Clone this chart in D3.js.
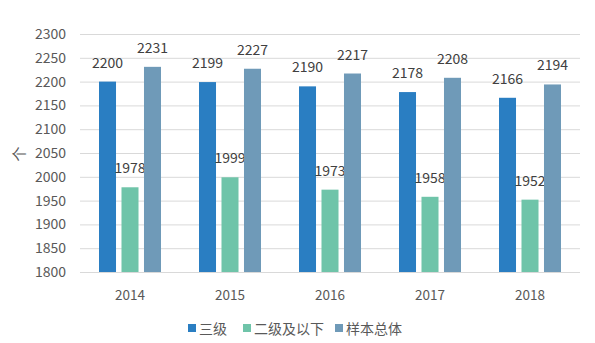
<!DOCTYPE html>
<html><head><meta charset="utf-8">
<script src="https://cdn.jsdelivr.net/npm/d3@7"></script>
<style>body{margin:0;background:#fff}svg{display:block}text{font-family:"Noto Sans CJK SC","Open Sans",sans-serif}</style>
</head><body><div id="c"></div>
<script>
const years = ["2014","2015","2016","2017","2018"];
const seriesNames = ["三级","二级及以下","样本总体"];
const level3 = [2200,2199,2190,2178,2166];
const level2Below = [1978,1999,1973,1958,1952];
const overall = [2231,2227,2217,2208,2194];
const yTicks = [1800,1850,1900,1950,2000,2050,2100,2150,2200,2250,2300];
const colors = ["#2a7ec2","#6fc4a9","#6f9ab8"];
const yTitle = "个";

const W=595,H=343;
const m={left:80,right:15,top:34,bottom:71};
const svg=d3.select("#c").append("svg").attr("width",W).attr("height",H);
const x=d3.scaleBand().domain(years).range([m.left,W-m.right]).padding(0);
const y=d3.scaleLinear().domain([1800,2300]).range([H-m.bottom,m.top]);
const xs=d3.scaleBand().domain(seriesNames).range([0,x.bandwidth()]).paddingInner(0.244).paddingOuter(0.845);

// grid
svg.append("g").selectAll("line").data(yTicks).join("line")
  .attr("x1",m.left).attr("x2",W-m.right)
  .attr("y1",d=>y(d)+0.5).attr("y2",d=>y(d)+0.5)
  .attr("stroke","#d9d9d9").attr("stroke-width",1);

const yAxis=svg.append("g").attr("transform",`translate(${m.left},0)`)
  .call(d3.axisLeft(y).tickValues(yTicks).tickFormat(d3.format("d")).tickSize(0).tickPadding(14));
yAxis.select(".domain").remove();
yAxis.selectAll("text").attr("font-size",14).attr("fill","#595959");

const xAxis=svg.append("g").attr("transform",`translate(0,${H-m.bottom})`)
  .call(d3.axisBottom(x).tickSize(0).tickPadding(18));
xAxis.select(".domain").remove();
xAxis.selectAll("text").attr("font-size",13.5).attr("fill","#595959");

const data=[level3,level2Below,overall];
data.forEach((vals,si)=>{
  const g=svg.append("g");
  g.selectAll("rect").data(vals).join("rect")
    .attr("x",(d,i)=>x(years[i])+xs(seriesNames[si]))
    .attr("width",xs.bandwidth())
    .attr("y",d=>y(d)).attr("height",d=>y(1800)-y(d))
    .attr("fill",colors[si]);
  g.selectAll("text").data(vals).join("text")
    .attr("x",(d,i)=>x(years[i])+xs(seriesNames[si])+xs.bandwidth()/2)
    .attr("y",d=>y(d)-14)
    .attr("text-anchor","middle").attr("font-size",14).attr("fill","#404040")
    .text(d=>d);
});

svg.append("text").attr("transform",`translate(18,154) rotate(-90)`)
  .attr("text-anchor","middle").attr("dominant-baseline","central")
  .attr("font-size",15).attr("fill","#595959").text(yTitle);

// legend
const legX=[188,243,335];
const lg=svg.append("g");
seriesNames.forEach((n,i)=>{
  lg.append("rect").attr("x",legX[i]).attr("y",324).attr("width",8).attr("height",8).attr("fill",colors[i]);
  lg.append("text").attr("x",legX[i]+11).attr("y",328).attr("dominant-baseline","central")
    .attr("font-size",14).attr("fill","#595959").text(n);
});
</script></body></html>
